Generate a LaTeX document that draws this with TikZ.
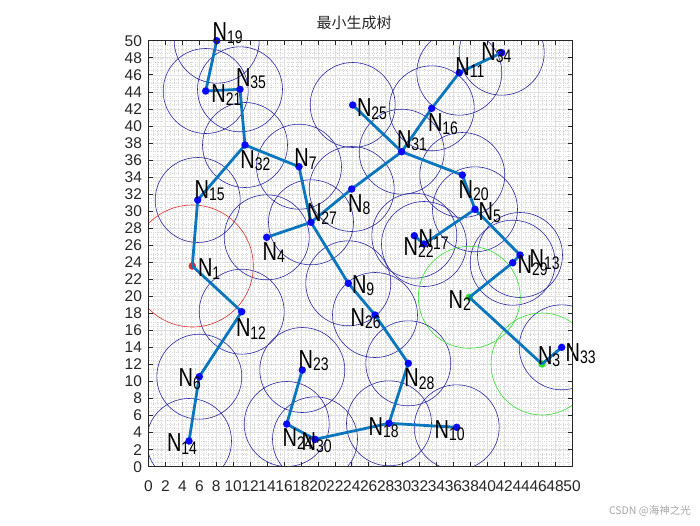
\documentclass[tikz,border=0pt]{standalone}
\usepackage{fontspec}
\setmainfont{Liberation Sans}
\newfontfamily\cjk{Noto Sans CJK SC}
\usepackage{graphicx}
\definecolor{mstblue}{RGB}{10,118,190}
\definecolor{dotblue}{RGB}{10,10,250}
\definecolor{circblue}{RGB}{40,40,165}
\definecolor{circgreen}{RGB}{50,225,50}
\definecolor{circred}{RGB}{225,45,45}
\definecolor{axcol}{RGB}{38,38,38}
\pgfdeclarelayer{back}
\pgfdeclarelayer{mid}
\pgfsetlayers{back,mid,main}
\newcommand\mylab[1]{\scalebox{1}[1.3]{\fontsize{20}{20}\selectfont N\raisebox{-1.8pt}{\fontsize{14}{14}\selectfont #1}}}
\tikzset{
  bdot/.style={circle,fill=dotblue,inner sep=0pt,minimum size=7.5pt},
  gdot/.style={circle,fill=circgreen,inner sep=0pt,minimum size=7.5pt},
  rdot/.style={circle,fill=circred,inner sep=0pt,minimum size=7.5pt},
  mst/.style={draw=mstblue,line width=2.8pt},
  bcirc/.style={draw=circblue,line width=0.6pt},
  gcirc/.style={draw=circgreen,line width=0.6pt},
  rcirc/.style={draw=circred,line width=0.6pt},
  lab/.style={anchor=base west,inner sep=0pt,xshift=-1.5pt,text=black},
  minorgrid/.style={draw=gray!32,line width=0.3pt,dotted},
  majorgrid/.style={draw=gray!25,line width=0.5pt},
  ticklab/.style={font=\fontsize{15.5}{15.5}\selectfont,text=axcol,inner sep=0pt},
}
\begin{document}
\begin{tikzpicture}[x=1pt,y=-1pt]
\useasboundingbox (0,0) rectangle (700,525);
% node positions (pixel coordinates)
\foreach \i/\x/\y in {1/192.3/266, 2/469.3/297.3, 3/542/364, 4/266.7/237.3, 5/475/209.3,
  6/199.3/376.7, 7/299/166.7, 8/351.7/189, 9/348.3/283.3, 10/456.7/427.3,
  11/459.3/72.7, 12/241.7/311.7, 13/520/255, 14/189/441, 15/197.7/200,
  16/431.7/108.3, 17/424/244, 18/389/423.3, 19/216.7/40.7, 20/462.3/175,
  21/205.7/91, 22/414.3/235.7, 23/302.3/370, 24/286.7/424, 25/352.7/105,
  26/375/315, 27/311/222.3, 28/408.3/363.3, 29/512.7/262.7, 30/315/439.3,
  31/401.7/151.7, 32/245/145, 33/561.7/347.3, 34/501.7/52.7, 35/240/89.3}
  \coordinate (c\i) at (\x,\y);

\begin{pgfonlayer}{back}
% grid
\begin{scope}[shift={(148.5,466.7)},x=8.47pt,y=8.52pt]
  \foreach \k in {0.5,1,...,49.5} {
    \draw[minorgrid] (\k,0) -- (\k,50);
    \draw[minorgrid] (0,\k) -- (50,\k);
  }
  \foreach \k in {2,4,...,48} {
    \draw[majorgrid] (\k,0) -- (\k,50);
    \draw[majorgrid] (0,\k) -- (50,\k);
  }
\end{scope}
% circles
\begin{scope}
  \clip (148.5,40.7) rectangle (572,466.7);
  \foreach \i in {4,5,...,35} \draw[bcirc] (c\i) circle[radius=42.5];
  \draw[gcirc] (c2) circle[radius=51];
  \draw[gcirc] (c3) circle[radius=51];
  \draw[rcirc] (c1) circle[radius=61];
\end{scope}
\node[rdot] (n1) at (c1) {};
\node[gdot] (n2) at (c2) {};
\node[gdot] (n3) at (c3) {};
\end{pgfonlayer}

% blue nodes
\foreach \i in {4,5,...,35} \node[bdot] (n\i) at (c\i) {};

% minimum spanning tree
\begin{pgfonlayer}{mid}
\foreach \a/\b in {19/21, 21/35, 35/32, 32/7, 32/15, 15/1, 1/12, 12/6, 6/14,
  7/27, 27/4, 27/8, 8/31, 31/25, 31/16, 16/11, 11/34, 31/20, 20/5, 5/17, 17/22,
  5/13, 13/29, 29/2, 2/3, 3/33, 27/9, 9/26, 26/28, 28/18, 18/10, 18/30, 30/24, 24/23}
  \draw[mst] (n\a.center) -- (n\b.center);
\end{pgfonlayer}

% labels
\foreach \i/\x/\y in {1/199.3/276.7, 2/450/308, 3/539.3/364, 4/264/260, 5/480/220,
  6/180/386.7, 7/295.7/166.7, 8/349.5/212, 9/353.3/293.3, 10/436/438.3,
  11/456.7/75, 12/237.3/336.7, 13/531/267, 14/168.3/451.7, 15/196/198.3,
  16/429.3/131.7, 17/420/247.3, 18/370/435, 19/214/40.7, 20/460/198.3,
  21/212.7/102.7, 22/405/255, 23/300/368.3, 24/284/446.7, 25/358.3/116.7,
  26/352/326, 27/308.3/221.7, 28/405.7/386.7, 29/519/273.3, 30/303/450,
  31/398.3/148.3, 32/241.7/168.3, 33/567/361, 34/482.7/60, 35/237.3/86}
  \node[lab] (l\i) at (\x,\y) {\mylab{\i}};

% axes box, ticks and tick labels
\begin{scope}[shift={(148.5,466.7)},x=8.47pt,y=8.52pt]
  \draw[axcol,line width=0.6pt] (0,0) rectangle (50,50);
  \foreach \k in {0,2,...,50} {
    \draw[axcol,line width=0.6pt] (\k,0) -- ++(0,0.5);
    \draw[axcol,line width=0.6pt] (\k,50) -- ++(0,-0.5);
    \draw[axcol,line width=0.6pt] (0,\k) -- ++(0.5,0);
    \draw[axcol,line width=0.6pt] (50,\k) -- ++(-0.5,0);
    \node[ticklab,anchor=center] (xt\k) at (\k,-2.3) {\k};
    \node[ticklab,anchor=east] (yt\k) at (-0.75,\k) {\k};
  }
\end{scope}

% title and watermark
\node[font=\cjk\fontsize{15}{15}\selectfont,text=axcol,inner sep=0pt] (title) at (354,23) {最小生成树};
\node[font=\cjk\fontsize{10.5}{10.5}\selectfont,text=gray!70,inner sep=0pt,anchor=east] (wm) at (691,511) {CSDN @海神之光};
\end{tikzpicture}
\end{document}
